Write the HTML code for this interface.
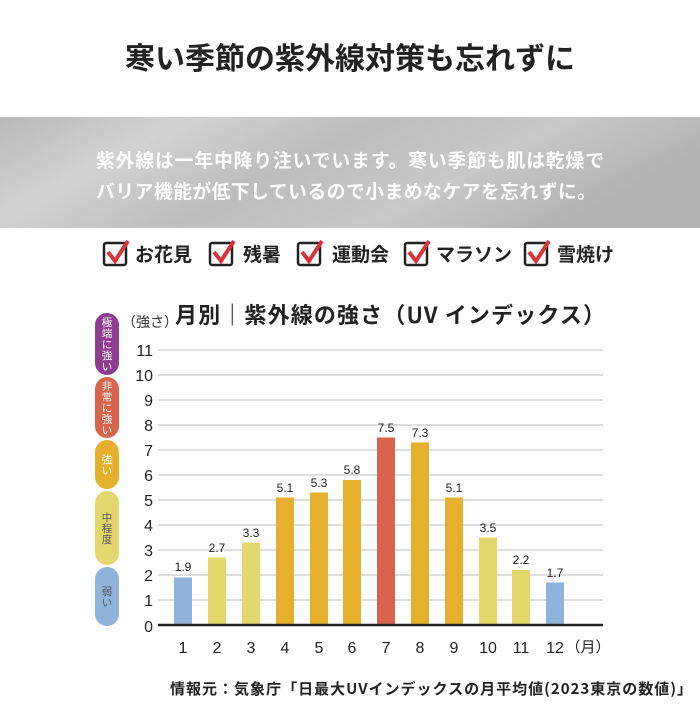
<!DOCTYPE html>
<html><head><meta charset="utf-8"><style>
body{margin:0;width:700px;height:700px;background:#fff;overflow:hidden;font-family:"Liberation Sans","Noto Sans CJK JP",sans-serif}
</style></head><body>
<svg width="700" height="700" xmlns="http://www.w3.org/2000/svg" font-family="Liberation Sans, Noto Sans CJK JP, sans-serif">
<defs>
<linearGradient id="bg" x1="0" y1="0" x2="1" y2="0.3">
<stop offset="0" stop-color="#b9b9b9"/><stop offset="0.25" stop-color="#d2d2d2"/><stop offset="0.5" stop-color="#bdbdbd"/><stop offset="0.75" stop-color="#c8c8c8"/><stop offset="1" stop-color="#b3b3b3"/>
</linearGradient>
</defs>
<text x="350" y="69" text-anchor="middle" font-size="30" font-weight="bold" fill="#222" font-family="Noto Sans CJK JP, sans-serif">寒い季節の紫外線対策も忘れずに</text>
<rect x="0" y="117" width="700" height="111" fill="url(#bg)"/>
<text x="96" y="167" font-size="18.8" fill="#fff" font-weight="bold" font-family="Noto Sans CJK JP, sans-serif" textLength="508">紫外線は一年中降り注いでいます。寒い季節も肌は乾燥で</text>
<text x="96" y="198" font-size="18.8" fill="#fff" font-weight="bold" font-family="Noto Sans CJK JP, sans-serif" textLength="500">バリア機能が低下しているので小まめなケアを忘れずに。</text>
<g font-size="19" font-weight="bold" fill="#222" font-family="Noto Sans CJK JP, sans-serif">
<g transform="translate(104,242)"><rect x="0" y="1" width="22" height="22" fill="none" stroke="#222" stroke-width="2.5" rx="2"/><path d="M4 10 L11 19 L24 -1" fill="none" stroke="#d8343a" stroke-width="4"/><text x="31" y="19">お花見</text></g>
<g transform="translate(210,242)"><rect x="0" y="1" width="22" height="22" fill="none" stroke="#222" stroke-width="2.5" rx="2"/><path d="M4 10 L11 19 L24 -1" fill="none" stroke="#d8343a" stroke-width="4"/><text x="33" y="19">残暑</text></g>
<g transform="translate(298,242)"><rect x="0" y="1" width="22" height="22" fill="none" stroke="#222" stroke-width="2.5" rx="2"/><path d="M4 10 L11 19 L24 -1" fill="none" stroke="#d8343a" stroke-width="4"/><text x="34" y="19">運動会</text></g>
<g transform="translate(405,242)"><rect x="0" y="1" width="22" height="22" fill="none" stroke="#222" stroke-width="2.5" rx="2"/><path d="M4 10 L11 19 L24 -1" fill="none" stroke="#d8343a" stroke-width="4"/><text x="31" y="19">マラソン</text></g>
<g transform="translate(525,242)"><rect x="0" y="1" width="22" height="22" fill="none" stroke="#222" stroke-width="2.5" rx="2"/><path d="M4 10 L11 19 L24 -1" fill="none" stroke="#d8343a" stroke-width="4"/><text x="32" y="19">雪焼け</text></g>
</g>
<text x="122" y="327" font-size="14" fill="#333" font-family="Noto Sans CJK JP, sans-serif">（強さ）</text>
<text x="175" y="323" font-size="22" font-weight="bold" fill="#222" font-family="Noto Sans CJK JP, sans-serif" textLength="430">月別｜紫外線の強さ（UV インデックス）</text>
<g stroke="#ddd" stroke-width="2">
<line x1="158" x2="603" y1="350" y2="350"/><line x1="158" x2="603" y1="375" y2="375"/><line x1="158" x2="603" y1="400" y2="400"/><line x1="158" x2="603" y1="425" y2="425"/><line x1="158" x2="603" y1="450" y2="450"/><line x1="158" x2="603" y1="475" y2="475"/><line x1="158" x2="603" y1="500" y2="500"/><line x1="158" x2="603" y1="525" y2="525"/><line x1="158" x2="603" y1="550" y2="550"/><line x1="158" x2="603" y1="575" y2="575"/><line x1="158" x2="603" y1="600" y2="600"/>
</g>
<g font-size="16" fill="#222" text-anchor="end">
<text x="153" y="356">11</text><text x="153" y="381">10</text><text x="153" y="406">9</text><text x="153" y="431">8</text><text x="153" y="456">7</text><text x="153" y="481">6</text><text x="153" y="506">5</text><text x="153" y="531">4</text><text x="153" y="556">3</text><text x="153" y="581">2</text><text x="153" y="606">1</text><text x="153" y="632">0</text>
</g>
<g>
<rect x="174" y="577.5" width="18" height="47.5" fill="#8fb3da"/>
<rect x="208" y="557.5" width="18" height="67.5" fill="#e2d86c"/>
<rect x="242" y="542.5" width="18" height="82.5" fill="#e2d86c"/>
<rect x="276" y="497.5" width="18" height="127.5" fill="#e4b02e"/>
<rect x="310" y="492.5" width="18" height="132.5" fill="#e4b02e"/>
<rect x="343" y="480" width="18" height="145" fill="#e4b02e"/>
<rect x="377" y="437.5" width="18" height="187.5" fill="#d8644b"/>
<rect x="411" y="442.5" width="18" height="182.5" fill="#e4b02e"/>
<rect x="445" y="497.5" width="18" height="127.5" fill="#e4b02e"/>
<rect x="479" y="537.5" width="18" height="87.5" fill="#e2d86c"/>
<rect x="512" y="570" width="18" height="55" fill="#e2d86c"/>
<rect x="546" y="582.5" width="18" height="42.5" fill="#8fb3da"/>
</g>
<line x1="158" x2="603" y1="625" y2="625" stroke="#222" stroke-width="2.5"/>
<g font-size="12" fill="#222" text-anchor="middle">
<text x="183" y="571">1.9</text><text x="217" y="552">2.7</text><text x="251" y="537">3.3</text><text x="285" y="492">5.1</text><text x="319" y="487">5.3</text><text x="352" y="474">5.8</text><text x="386" y="432">7.5</text><text x="420" y="437">7.3</text><text x="454" y="492">5.1</text><text x="488" y="532">3.5</text><text x="521" y="564">2.2</text><text x="555" y="577">1.7</text>
</g>
<g font-size="16" fill="#222" text-anchor="middle">
<text x="183" y="653">1</text><text x="217" y="653">2</text><text x="251" y="653">3</text><text x="285" y="653">4</text><text x="319" y="653">5</text><text x="352" y="653">6</text><text x="386" y="653">7</text><text x="420" y="653">8</text><text x="454" y="653">9</text><text x="488" y="653">10</text><text x="521" y="653">11</text><text x="555" y="653">12</text>
<text x="588" y="652" font-size="15" font-family="Noto Sans CJK JP, sans-serif">（月）</text>
</g>
<g font-size="10.5" fill="#fff" text-anchor="middle" font-family="Noto Sans CJK JP, sans-serif">
<rect x="95" y="313" width="24" height="62" rx="12" fill="#8e3d8f"/>
<text x="107" y="326">極</text><text x="107" y="337">端</text><text x="107" y="348">に</text><text x="107" y="359">強</text><text x="107" y="370">い</text>
<rect x="95" y="377" width="24" height="61" rx="12" fill="#d8644b"/>
<text x="107" y="389.5">非</text><text x="107" y="400.5">常</text><text x="107" y="411.5">に</text><text x="107" y="422.5">強</text><text x="107" y="433.5">い</text>
<rect x="95" y="440" width="24" height="49" rx="12" fill="#e4b02e"/>
<text x="107" y="463">強</text><text x="107" y="474">い</text>
<rect x="95" y="491" width="24" height="74" rx="12" fill="#e2d86c"/>
<g fill="#555"><text x="107" y="521">中</text><text x="107" y="532">程</text><text x="107" y="543">度</text></g>
<rect x="95" y="567" width="24" height="59" rx="12" fill="#8fb3da"/>
<g fill="#555"><text x="107" y="595">弱</text><text x="107" y="606">い</text></g>
</g>
<text x="170" y="694" font-size="15" font-weight="bold" fill="#222" font-family="Noto Sans CJK JP, sans-serif" textLength="522">情報元：気象庁「日最大UVインデックスの月平均値(2023東京の数値)」</text>
</svg>
</body></html>
